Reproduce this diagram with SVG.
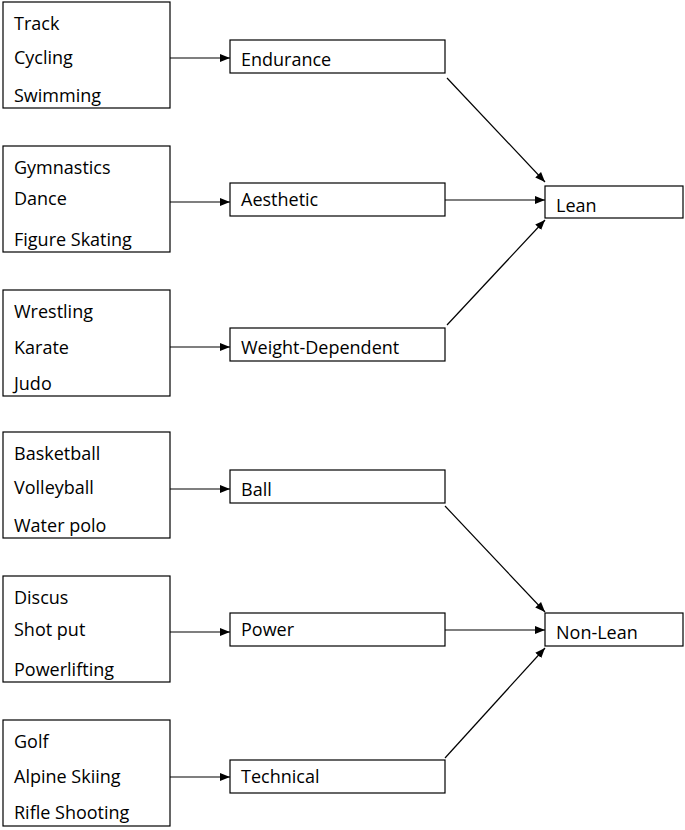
<svg xmlns="http://www.w3.org/2000/svg" width="685" height="830" viewBox="0 0 685 830">
<style>
rect{fill:#fff;stroke:#000;stroke-width:1.2}
text{font-family:"Open Sans","Liberation Sans",sans-serif;font-size:18px;fill:#000}
.c{stroke:#000;stroke-width:1.2;fill:none;marker-end:url(#a)}
</style>
<defs><marker id="a" markerWidth="10" markerHeight="8" refX="10" refY="4" orient="auto" markerUnits="userSpaceOnUse"><path d="M0,0L10,4L0,8z" fill="#000"/></marker></defs>
<rect width="685" height="830" style="stroke:none"/>
<g id="g1"><rect x="3" y="2" width="167" height="106"/><text x="14" y="30">Track</text><text x="14" y="64">Cycling</text><text x="14" y="102">Swimming</text></g>
<g id="g2"><rect x="3" y="146" width="167" height="106"/><text x="14" y="174">Gymnastics</text><text x="14" y="205">Dance</text><text x="14" y="246">Figure Skating</text></g>
<g id="g3"><rect x="3" y="290" width="167" height="106"/><text x="14" y="318">Wrestling</text><text x="14" y="354">Karate</text><text x="14" y="390">Judo</text></g>
<g id="g4"><rect x="3" y="432" width="167" height="106"/><text x="14" y="460">Basketball</text><text x="14" y="494">Volleyball</text><text x="14" y="532">Water polo</text></g>
<g id="g5"><rect x="3" y="576" width="167" height="106"/><text x="14" y="604">Discus</text><text x="14" y="636">Shot put</text><text x="14" y="676">Powerlifting</text></g>
<g id="g6"><rect x="3" y="720" width="167" height="106"/><text x="14" y="748">Golf</text><text x="14" y="783">Alpine Skiing</text><text x="14" y="819">Rifle Shooting</text></g>
<g id="endurance"><rect x="230" y="40" width="215" height="33"/><text x="241" y="66">Endurance</text></g>
<g id="aesthetic"><rect x="230" y="183" width="215" height="33"/><text x="241" y="206">Aesthetic</text></g>
<g id="weight"><rect x="230" y="328" width="215" height="33"/><text x="241" y="354">Weight-Dependent</text></g>
<g id="ball"><rect x="230" y="470" width="215" height="33"/><text x="241" y="496">Ball</text></g>
<g id="power"><rect x="230" y="613" width="215" height="33"/><text x="241" y="636">Power</text></g>
<g id="technical"><rect x="230" y="760" width="215" height="33"/><text x="241" y="783">Technical</text></g>
<g id="lean"><rect x="545" y="186" width="138" height="32"/><text x="556" y="212">Lean</text></g>
<g id="nonlean"><rect x="545" y="613" width="138" height="33"/><text x="556" y="639">Non-Lean</text></g>
<g id="connectors">
<path class="c" d="M170,58H230"/>
<path class="c" d="M170,202H230"/>
<path class="c" d="M170,347H230"/>
<path class="c" d="M170,489H230"/>
<path class="c" d="M170,632H230"/>
<path class="c" d="M170,777H230"/>
<path class="c" d="M447,78L545,182"/>
<path class="c" d="M445,200H545"/>
<path class="c" d="M447,325L545,220"/>
<path class="c" d="M445,506L545,612"/>
<path class="c" d="M445,630H545"/>
<path class="c" d="M445,758L545,648"/>
</g>
</svg>
